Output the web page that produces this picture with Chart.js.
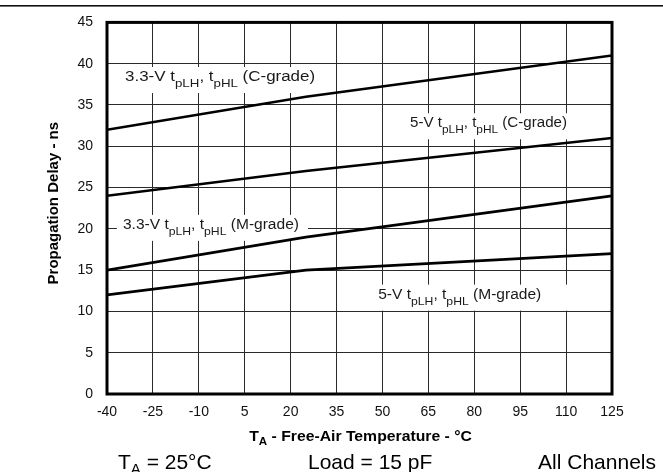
<!DOCTYPE html>
<html>
<head>
<meta charset="utf-8">
<title>Propagation Delay vs Free-Air Temperature</title>
<script src="https://cdn.jsdelivr.net/npm/chart.js@4/dist/chart.umd.min.js"></script>
<style>
  html, body { margin: 0; padding: 0; background: #ffffff; }
  #wrap { width: 663px; height: 472px; position: relative; }
  canvas { display: block; }
</style>
</head>
<body>
<div id="wrap"><canvas id="chart" width="663" height="472"></canvas></div>
<script>
// Free-air temperature (°C) at which each curve is specified
const temperatures = [-40, 25, 125];

// Propagation delay (ns) per supply voltage and grade
const delay33VCGrade = [32, 36, 41];
const delay5VCGrade  = [24, 27, 31];
const delay33VMGrade = [15, 19, 24];
const delay5VMGrade  = [12, 15, 17];

// Axis tick values
const xTickValues = [-40, -25, -10, 5, 20, 35, 50, 65, 80, 95, 110, 125];
const yTickValues = [0, 5, 10, 15, 20, 25, 30, 35, 40, 45];

// Curve captions, anchored in data units (temperature, delay at baseline)
const curveLabels = [
  { voltage: '3.3-V', grade: 'C-grade', at: [-34.1, 37.9], padR: 3,  sx: 1.21 },
  { voltage: '5-V',   grade: 'C-grade', at: [59.0, 32.3],  padR: 8,  sx: 1.08 },
  { voltage: '3.3-V', grade: 'M-grade', at: [-34.8, 20.0], padR: 9,  sx: 1.11 },
  { voltage: '5-V',   grade: 'M-grade', at: [48.6, 11.55], padR: 26, sx: 1.11 }
];

const FONT = "'Liberation Sans', Arial, Helvetica, sans-serif";

function toPoints(values) {
  return temperatures.map((t, i) => ({ x: t, y: values[i] }));
}

function curve(values) {
  return {
    data: toPoints(values),
    borderColor: '#000000',
    borderWidth: 2.6,
    pointRadius: 0,
    tension: 0,
    fill: false
  };
}

// Draws text runs (with optional subscripts and horizontal stretch); returns the drawn width
function drawRuns(ctx, runs, x, y, o, measureOnly) {
  const sx = o.sx || 1;
  let cx = 0;
  ctx.save();
  ctx.translate(x, y);
  ctx.scale(sx, 1);
  for (const r of runs) {
    ctx.font = (o.weight || 'normal') + ' ' + (r.sub ? o.sub : o.main) + 'px ' + FONT;
    if (!measureOnly) ctx.fillText(r.t, cx, r.sub ? o.dy : 0);
    cx += ctx.measureText(r.t).width;
  }
  ctx.restore();
  return cx * sx;
}

function captionRuns(l) {
  return [
    { t: l.voltage + ' t' }, { t: 'pLH', sub: true },
    { t: ', t' }, { t: 'pHL', sub: true },
    { t: ' (' + l.grade + ')' }
  ];
}

const decorPlugin = {
  id: 'decor',
  beforeDatasetsDraw(chart) {
    const ctx = chart.ctx;
    const xs = chart.scales.x, ys = chart.scales.y;
    ctx.save();
    ctx.textBaseline = 'alphabetic';
    ctx.textAlign = 'left';
    for (const l of curveLabels) {
      const o = { main: 14, sub: 11, dy: 6, sx: l.sx };
      const x = xs.getPixelForValue(l.at[0]);
      const y = ys.getPixelForValue(l.at[1]);
      const runs = captionRuns(l);
      const w = drawRuns(ctx, runs, x, y, o, true);
      ctx.fillStyle = '#ffffff';
      ctx.fillRect(x - 6, y - 14, w + 6 + l.padR, 26);
      ctx.fillStyle = '#1a1a1a';
      drawRuns(ctx, runs, x, y, o, false);
    }
    ctx.restore();
  },
  afterDraw(chart) {
    const ctx = chart.ctx;
    const a = chart.chartArea;
    ctx.save();
    // plot frame
    ctx.strokeStyle = '#000000';
    ctx.lineWidth = 3;
    ctx.strokeRect(a.left, a.top, a.right - a.left, a.bottom - a.top);
    // rule across the top of the figure
    ctx.fillStyle = '#111111';
    ctx.fillRect(0, 5, chart.width, 1.6);

    ctx.fillStyle = '#000000';
    ctx.textBaseline = 'alphabetic';
    ctx.textAlign = 'left';

    // x-axis title
    const xt = [{ t: 'T' }, { t: 'A', sub: true }, { t: ' - Free-Air Temperature - °C' }];
    const xo = { main: 15, sub: 11, dy: 4, weight: 'bold', sx: 1.05 };
    const xw = drawRuns(ctx, xt, 0, 0, xo, true);
    drawRuns(ctx, xt, (a.left + a.right) / 2 + 1 - xw / 2, 441, xo, false);

    // y-axis title
    ctx.save();
    ctx.translate(58, (a.top + a.bottom) / 2 - 5);
    ctx.rotate(-Math.PI / 2);
    ctx.textAlign = 'center';
    ctx.font = 'bold 15px ' + FONT;
    ctx.fillText('Propagation Delay - ns', 0, 0);
    ctx.restore();

    // test conditions row
    const bo = { main: 21, sub: 15, dy: 5 };
    drawRuns(ctx, [{ t: 'T' }, { t: 'A', sub: true }, { t: ' = 25°C' }], 118, 469, bo, false);
    drawRuns(ctx, [{ t: 'Load = 15 pF' }], 308, 469, bo, false);
    const cw = drawRuns(ctx, [{ t: 'All Channels' }], 0, 0, bo, true);
    drawRuns(ctx, [{ t: 'All Channels' }], 656 - cw, 469, bo, false);
    ctx.restore();
  }
};

new Chart(document.getElementById('chart'), {
  type: 'line',
  data: {
    datasets: [
      curve(delay33VCGrade),
      curve(delay5VCGrade),
      curve(delay33VMGrade),
      curve(delay5VMGrade)
    ]
  },
  options: {
    responsive: false,
    devicePixelRatio: 1,
    animation: false,
    events: [],
    layout: { padding: { left: 0, right: 51, top: 16, bottom: 0 } },
    plugins: { legend: { display: false }, tooltip: { enabled: false } },
    scales: {
      x: {
        type: 'linear',
        min: -40,
        max: 125,
        afterBuildTicks: s => { s.ticks = xTickValues.map(v => ({ value: v })); },
        afterFit: s => { s.height = 78; },
        grid: { color: '#2a2a2a', lineWidth: 1, drawTicks: false },
        border: { display: false },
        ticks: {
          autoSkip: false,
          maxRotation: 0,
          padding: 10,
          color: '#111111',
          font: { family: FONT, size: 14 },
          callback: v => String(v)
        }
      },
      y: {
        type: 'linear',
        min: 0,
        max: 45,
        afterBuildTicks: s => { s.ticks = yTickValues.map(v => ({ value: v })); },
        afterFit: s => { s.width = 107; },
        grid: { color: '#2a2a2a', lineWidth: 1, drawTicks: false },
        border: { display: false },
        ticks: {
          padding: 14,
          color: '#111111',
          font: { family: FONT, size: 14 },
          callback: v => String(v)
        }
      }
    }
  },
  plugins: [decorPlugin]
});
</script>
</body>
</html>
